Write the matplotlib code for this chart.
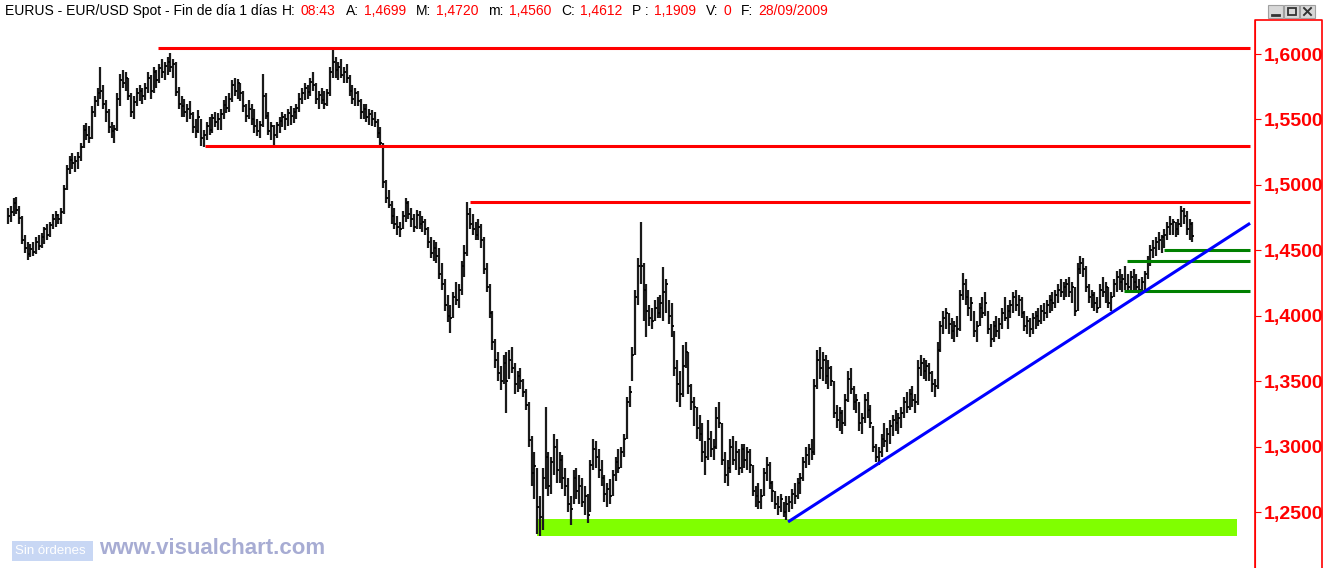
import matplotlib
matplotlib.use("Agg")
import matplotlib.pyplot as plt
from matplotlib.patches import Rectangle
from matplotlib.ticker import FuncFormatter
import numpy as np

# EUR/USD daily bars (high, low, close)
highs = [
    1.482, 1.484, 1.490, 1.491, 1.484, 1.476, 1.462, 1.456, 1.455, 1.456, 1.460, 1.462, 1.463, 1.468, 1.470, 1.472, 1.478, 1.480, 1.478, 1.482,
    1.500, 1.515, 1.522, 1.524, 1.522, 1.525, 1.532, 1.546, 1.547, 1.545, 1.560, 1.568, 1.574, 1.590, 1.576, 1.565, 1.558, 1.548, 1.546, 1.570,
    1.585, 1.588, 1.586, 1.582, 1.570, 1.568, 1.574, 1.576, 1.574, 1.578, 1.586, 1.584, 1.590, 1.588, 1.592, 1.596, 1.594, 1.598, 1.601, 1.596,
    1.594, 1.575, 1.568, 1.566, 1.562, 1.564, 1.556, 1.550, 1.557, 1.550, 1.542, 1.548, 1.552, 1.554, 1.556, 1.555, 1.558, 1.565, 1.568, 1.570,
    1.580, 1.582, 1.581, 1.578, 1.572, 1.562, 1.565, 1.562, 1.558, 1.550, 1.549, 1.585, 1.570, 1.556, 1.548, 1.546, 1.548, 1.552, 1.556, 1.554,
    1.558, 1.560, 1.559, 1.562, 1.570, 1.574, 1.578, 1.576, 1.582, 1.586, 1.578, 1.572, 1.574, 1.572, 1.573, 1.590, 1.604, 1.598, 1.594, 1.596,
    1.590, 1.592, 1.584, 1.576, 1.574, 1.572, 1.566, 1.562, 1.562, 1.558, 1.557, 1.556, 1.550, 1.544, 1.532, 1.504, 1.496, 1.488, 1.482, 1.476,
    1.472, 1.480, 1.490, 1.488, 1.482, 1.478, 1.481, 1.480, 1.476, 1.474, 1.468, 1.460, 1.458, 1.456, 1.452, 1.440, 1.428, 1.416, 1.408, 1.418,
    1.426, 1.424, 1.442, 1.454, 1.487, 1.482, 1.478, 1.472, 1.474, 1.470, 1.460, 1.440, 1.424, 1.404, 1.382, 1.372, 1.362, 1.370, 1.372, 1.374,
    1.376, 1.364, 1.358, 1.360, 1.352, 1.344, 1.334, 1.308, 1.296, 1.284, 1.262, 1.284, 1.330, 1.296, 1.292, 1.310, 1.306, 1.296, 1.294, 1.284,
    1.276, 1.262, 1.282, 1.284, 1.278, 1.276, 1.270, 1.264, 1.290, 1.306, 1.304, 1.298, 1.290, 1.278, 1.272, 1.275, 1.282, 1.292, 1.298, 1.300,
    1.310, 1.338, 1.346, 1.376, 1.420, 1.444, 1.472, 1.440, 1.424, 1.408, 1.406, 1.412, 1.414, 1.416, 1.437, 1.428, 1.412, 1.410, 1.388, 1.366,
    1.358, 1.378, 1.380, 1.372, 1.348, 1.338, 1.330, 1.324, 1.318, 1.304, 1.320, 1.312, 1.306, 1.330, 1.334, 1.318, 1.296, 1.290, 1.306, 1.308,
    1.304, 1.298, 1.302, 1.302, 1.300, 1.298, 1.286, 1.270, 1.272, 1.268, 1.284, 1.292, 1.288, 1.274, 1.266, 1.262, 1.264, 1.258, 1.262, 1.262,
    1.268, 1.272, 1.276, 1.280, 1.292, 1.300, 1.302, 1.306, 1.352, 1.374, 1.376, 1.372, 1.370, 1.366, 1.362, 1.350, 1.332, 1.330, 1.328, 1.340,
    1.358, 1.360, 1.346, 1.340, 1.334, 1.326, 1.340, 1.342, 1.332, 1.316, 1.302, 1.300, 1.310, 1.318, 1.314, 1.320, 1.324, 1.328, 1.326, 1.330,
    1.338, 1.342, 1.344, 1.346, 1.340, 1.366, 1.370, 1.368, 1.366, 1.364, 1.358, 1.352, 1.380, 1.396, 1.404, 1.406, 1.402, 1.398, 1.396, 1.400,
    1.420, 1.433, 1.428, 1.420, 1.414, 1.404, 1.396, 1.410, 1.414, 1.418, 1.404, 1.394, 1.396, 1.400, 1.398, 1.406, 1.414, 1.408, 1.412, 1.418,
    1.420, 1.416, 1.414, 1.404, 1.400, 1.398, 1.402, 1.404, 1.406, 1.408, 1.410, 1.412, 1.416, 1.418, 1.420, 1.424, 1.428, 1.426, 1.428, 1.430,
    1.426, 1.422, 1.440, 1.446, 1.444, 1.438, 1.424, 1.420, 1.418, 1.414, 1.424, 1.430, 1.426, 1.422, 1.418, 1.428, 1.434, 1.436, 1.432, 1.438,
    1.432, 1.434, 1.436, 1.432, 1.428, 1.430, 1.434, 1.446, 1.454, 1.458, 1.460, 1.464, 1.462, 1.466, 1.472, 1.476, 1.474, 1.472, 1.474, 1.484,
    1.482, 1.480, 1.474, 1.472,
]
lows = [
    1.470, 1.472, 1.476, 1.478, 1.470, 1.455, 1.448, 1.443, 1.445, 1.446, 1.447, 1.450, 1.452, 1.455, 1.458, 1.460, 1.466, 1.468, 1.470, 1.470,
    1.478, 1.496, 1.508, 1.512, 1.510, 1.512, 1.518, 1.528, 1.534, 1.532, 1.535, 1.552, 1.560, 1.566, 1.558, 1.548, 1.540, 1.536, 1.532, 1.541,
    1.560, 1.574, 1.572, 1.565, 1.552, 1.550, 1.560, 1.564, 1.562, 1.565, 1.570, 1.566, 1.570, 1.574, 1.578, 1.582, 1.580, 1.584, 1.586, 1.582,
    1.568, 1.558, 1.552, 1.552, 1.548, 1.550, 1.540, 1.536, 1.540, 1.530, 1.529, 1.534, 1.538, 1.540, 1.544, 1.542, 1.542, 1.550, 1.555, 1.556,
    1.563, 1.568, 1.566, 1.564, 1.556, 1.548, 1.550, 1.546, 1.540, 1.537, 1.536, 1.544, 1.550, 1.538, 1.534, 1.529, 1.536, 1.540, 1.544, 1.542,
    1.545, 1.546, 1.547, 1.550, 1.556, 1.562, 1.565, 1.566, 1.568, 1.572, 1.562, 1.558, 1.562, 1.558, 1.560, 1.568, 1.582, 1.582, 1.580, 1.582,
    1.578, 1.578, 1.568, 1.562, 1.560, 1.560, 1.550, 1.550, 1.548, 1.546, 1.545, 1.544, 1.536, 1.528, 1.498, 1.486, 1.482, 1.470, 1.466, 1.462,
    1.460, 1.466, 1.472, 1.474, 1.468, 1.464, 1.466, 1.466, 1.464, 1.462, 1.452, 1.444, 1.442, 1.440, 1.428, 1.420, 1.404, 1.395, 1.387, 1.398,
    1.408, 1.406, 1.416, 1.430, 1.446, 1.466, 1.462, 1.458, 1.458, 1.452, 1.432, 1.418, 1.398, 1.374, 1.360, 1.350, 1.343, 1.348, 1.326, 1.352,
    1.356, 1.340, 1.342, 1.344, 1.338, 1.328, 1.300, 1.270, 1.260, 1.233, 1.232, 1.236, 1.268, 1.262, 1.264, 1.278, 1.272, 1.272, 1.268, 1.262,
    1.250, 1.240, 1.256, 1.260, 1.256, 1.254, 1.248, 1.242, 1.250, 1.282, 1.284, 1.276, 1.270, 1.258, 1.254, 1.256, 1.262, 1.274, 1.280, 1.284,
    1.292, 1.306, 1.330, 1.350, 1.370, 1.408, 1.424, 1.396, 1.384, 1.392, 1.390, 1.396, 1.398, 1.398, 1.396, 1.402, 1.394, 1.384, 1.354, 1.334,
    1.330, 1.338, 1.360, 1.340, 1.328, 1.316, 1.306, 1.304, 1.288, 1.278, 1.290, 1.292, 1.290, 1.298, 1.314, 1.286, 1.272, 1.270, 1.280, 1.286,
    1.282, 1.278, 1.280, 1.284, 1.282, 1.280, 1.262, 1.254, 1.252, 1.252, 1.262, 1.274, 1.268, 1.258, 1.252, 1.248, 1.250, 1.246, 1.244, 1.250,
    1.252, 1.256, 1.260, 1.264, 1.274, 1.284, 1.286, 1.290, 1.294, 1.344, 1.352, 1.350, 1.348, 1.344, 1.346, 1.322, 1.314, 1.312, 1.310, 1.316,
    1.334, 1.340, 1.328, 1.326, 1.312, 1.310, 1.318, 1.322, 1.314, 1.296, 1.288, 1.286, 1.292, 1.300, 1.296, 1.302, 1.308, 1.312, 1.310, 1.314,
    1.322, 1.326, 1.328, 1.330, 1.326, 1.332, 1.354, 1.352, 1.350, 1.350, 1.342, 1.338, 1.344, 1.372, 1.386, 1.390, 1.386, 1.382, 1.380, 1.384,
    1.388, 1.412, 1.408, 1.400, 1.396, 1.384, 1.380, 1.392, 1.398, 1.400, 1.386, 1.376, 1.380, 1.384, 1.382, 1.390, 1.396, 1.390, 1.398, 1.402,
    1.404, 1.400, 1.398, 1.388, 1.386, 1.384, 1.386, 1.390, 1.392, 1.394, 1.396, 1.398, 1.402, 1.404, 1.406, 1.410, 1.414, 1.412, 1.414, 1.414,
    1.410, 1.400, 1.404, 1.432, 1.430, 1.418, 1.410, 1.406, 1.404, 1.402, 1.406, 1.414, 1.410, 1.406, 1.404, 1.414, 1.418, 1.420, 1.418, 1.420,
    1.418, 1.418, 1.420, 1.418, 1.416, 1.418, 1.420, 1.428, 1.438, 1.444, 1.446, 1.450, 1.448, 1.452, 1.458, 1.462, 1.462, 1.460, 1.462, 1.468,
    1.470, 1.462, 1.458, 1.456,
]
closes = [
    1.476, 1.479, 1.486, 1.481, 1.475, 1.458, 1.452, 1.447, 1.451, 1.449, 1.456, 1.453, 1.460, 1.466, 1.462, 1.469, 1.474, 1.477, 1.474, 1.479,
    1.497, 1.512, 1.519, 1.517, 1.518, 1.521, 1.529, 1.542, 1.538, 1.536, 1.556, 1.564, 1.570, 1.572, 1.562, 1.556, 1.544, 1.541, 1.543, 1.566,
    1.580, 1.578, 1.582, 1.568, 1.556, 1.563, 1.570, 1.572, 1.568, 1.574, 1.582, 1.572, 1.586, 1.580, 1.589, 1.586, 1.591, 1.594, 1.590, 1.592,
    1.571, 1.562, 1.560, 1.556, 1.558, 1.554, 1.544, 1.541, 1.552, 1.536, 1.538, 1.545, 1.542, 1.551, 1.548, 1.550, 1.554, 1.561, 1.559, 1.566,
    1.576, 1.572, 1.578, 1.570, 1.560, 1.553, 1.558, 1.550, 1.545, 1.541, 1.546, 1.568, 1.553, 1.541, 1.545, 1.538, 1.546, 1.549, 1.552, 1.550,
    1.555, 1.553, 1.556, 1.559, 1.566, 1.570, 1.574, 1.571, 1.579, 1.576, 1.566, 1.569, 1.565, 1.562, 1.570, 1.586, 1.594, 1.588, 1.590, 1.584,
    1.586, 1.582, 1.572, 1.566, 1.570, 1.564, 1.556, 1.558, 1.552, 1.554, 1.550, 1.548, 1.540, 1.532, 1.502, 1.490, 1.485, 1.476, 1.470, 1.468,
    1.466, 1.476, 1.486, 1.478, 1.474, 1.468, 1.477, 1.470, 1.472, 1.466, 1.456, 1.448, 1.452, 1.446, 1.432, 1.424, 1.408, 1.400, 1.398, 1.414,
    1.412, 1.420, 1.438, 1.448, 1.478, 1.470, 1.466, 1.462, 1.468, 1.458, 1.436, 1.422, 1.402, 1.380, 1.366, 1.356, 1.350, 1.364, 1.350, 1.366,
    1.360, 1.348, 1.354, 1.350, 1.342, 1.332, 1.305, 1.280, 1.285, 1.254, 1.246, 1.276, 1.292, 1.270, 1.288, 1.300, 1.282, 1.290, 1.276, 1.270,
    1.256, 1.252, 1.276, 1.266, 1.270, 1.258, 1.262, 1.248, 1.286, 1.298, 1.292, 1.282, 1.276, 1.264, 1.268, 1.262, 1.278, 1.288, 1.284, 1.296,
    1.306, 1.334, 1.342, 1.370, 1.414, 1.438, 1.438, 1.420, 1.404, 1.398, 1.396, 1.406, 1.402, 1.410, 1.418, 1.424, 1.400, 1.392, 1.360, 1.348,
    1.340, 1.362, 1.372, 1.346, 1.334, 1.330, 1.314, 1.310, 1.296, 1.292, 1.306, 1.298, 1.300, 1.322, 1.318, 1.290, 1.278, 1.284, 1.300, 1.290,
    1.296, 1.284, 1.298, 1.290, 1.296, 1.286, 1.266, 1.262, 1.258, 1.262, 1.280, 1.286, 1.272, 1.266, 1.256, 1.254, 1.260, 1.250, 1.256, 1.258,
    1.264, 1.262, 1.272, 1.276, 1.288, 1.294, 1.298, 1.296, 1.346, 1.366, 1.360, 1.366, 1.354, 1.360, 1.350, 1.326, 1.320, 1.326, 1.318, 1.336,
    1.352, 1.344, 1.334, 1.336, 1.318, 1.322, 1.336, 1.328, 1.318, 1.300, 1.292, 1.296, 1.306, 1.304, 1.310, 1.316, 1.320, 1.318, 1.322, 1.326,
    1.334, 1.330, 1.340, 1.336, 1.334, 1.360, 1.364, 1.358, 1.362, 1.356, 1.348, 1.346, 1.374, 1.392, 1.398, 1.402, 1.394, 1.388, 1.392, 1.390,
    1.416, 1.424, 1.414, 1.406, 1.410, 1.388, 1.392, 1.406, 1.402, 1.410, 1.390, 1.382, 1.392, 1.388, 1.394, 1.402, 1.398, 1.404, 1.408, 1.414,
    1.408, 1.412, 1.402, 1.392, 1.396, 1.390, 1.398, 1.400, 1.396, 1.404, 1.402, 1.408, 1.412, 1.410, 1.416, 1.420, 1.418, 1.422, 1.424, 1.418,
    1.422, 1.404, 1.436, 1.440, 1.436, 1.422, 1.414, 1.416, 1.410, 1.406, 1.420, 1.418, 1.422, 1.410, 1.414, 1.424, 1.430, 1.426, 1.428, 1.424,
    1.422, 1.430, 1.426, 1.422, 1.420, 1.426, 1.432, 1.442, 1.450, 1.452, 1.456, 1.458, 1.460, 1.462, 1.468, 1.470, 1.472, 1.466, 1.470, 1.480,
    1.476, 1.466, 1.470, 1.4612,
]

# drawn studies: (start bar, level)
red_levels = [(53.6, 1.6046), (70.4, 1.5295), (165.0, 1.4869)]
green_levels = [(412.9, 1.4503), (399.5, 1.4421), (398.6, 1.4189)]
trend_bars = [278.6, 443.6]
trend_prices = [1.2425, 1.4707]
zone_bars = [188.9, 438.9]
zone_prices = [1.2317, 1.2447]
line_end = 443.6

header = [("EURUS - EUR/USD Spot - Fin de día 1 días", "black", 5), ("H:", "black", 5), ("08:43", "red", 10),
          ("A:", "black", 5), ("1,4699", "red", 10), ("M:", "black", 5), ("1,4720", "red", 10),
          ("m:", "black", 5), ("1,4560", "red", 10), ("C:", "black", 5), ("1,4612", "red", 10),
          ("P :", "black", 5), ("1,1909", "red", 10), ("V:", "black", 5), ("0", "red", 10),
          ("F:", "black", 5), ("28/09/2009", "red", 0)]

W, H = 1334, 568
fig = plt.figure(figsize=(W / 100, H / 100), dpi=100)
fig.patch.set_facecolor("white")

ax = fig.add_axes([0, 0, 1255 / W, 548 / H])
ax.set_xlim(-2.857, 445.36)
ax.set_ylim(1.2073, 1.626)

x = np.arange(len(closes))
ax.add_patch(Rectangle((zone_bars[0], zone_prices[0]), zone_bars[1] - zone_bars[0],
                       zone_prices[1] - zone_prices[0], color="#80ff00", lw=0, zorder=1))
ax.vlines(x, lows, highs, color="#1a1a1a", lw=1.6, zorder=2)
ax.hlines(closes, x, x + 0.7, color="#000000", lw=1.3, zorder=2)

for start, lvl in red_levels:
    ax.hlines(lvl, start, line_end, color="#ff0000", lw=2.2, zorder=3)
for start, lvl in green_levels:
    ax.hlines(lvl, start, line_end, color="#008000", lw=2.2, zorder=3)
ax.plot(trend_bars, trend_prices, color="#0000ff", lw=2.2, zorder=3, solid_capstyle="butt")

for s in ["left", "top", "bottom"]:
    ax.spines[s].set_visible(False)
ax.spines["right"].set_color("red")
ax.set_xticks([])
ax.yaxis.tick_right()
ax.set_yticks(np.arange(1.25, 1.6001, 0.05))
ax.yaxis.set_major_formatter(FuncFormatter(lambda v, p: f"{v:.4f}".replace(".", ",")))
ax.tick_params(axis="y", direction="out", length=4, color="red", labelcolor="red", pad=2)
for lab in ax.get_yticklabels():
    lab.set_fontfamily("Liberation Sans")
    lab.set_fontweight("bold")
    lab.set_fontsize(14)

# overlay in pixel coordinates for the window furniture
ov = fig.add_axes([0, 0, 1, 1], zorder=5)
ov.set_xlim(0, W)
ov.set_ylim(H, 0)
ov.axis("off")
ov.patch.set_visible(False)

ov.plot([1255, 1255, 1322, 1322], [H, 20, 20, H], color="red", lw=1.2)

# window buttons
for bx in [1268, 1284, 1300]:
    ov.add_patch(Rectangle((bx, 5), 15, 13, facecolor="#d8d8d8", edgecolor="#a0a0a0", lw=0.8))
ov.plot([1272, 1279], [14.5, 14.5], color="#333333", lw=2)
ov.add_patch(Rectangle((1288, 8), 8, 7, fill=False, edgecolor="#333333", lw=1.3))
ov.plot([1304, 1311], [8, 15], color="#333333", lw=1.4)
ov.plot([1304, 1311], [15, 8], color="#333333", lw=1.4)

# header text, chained left to right
fig.canvas.draw()
rend = fig.canvas.get_renderer()
hx = 5
for txt, col, gap in header:
    t = ov.text(hx, 11, txt, color=col, fontsize=10, family="Liberation Sans", va="center", ha="left")
    hx += t.get_window_extent(renderer=rend).width + gap

# watermark
ov.add_patch(Rectangle((12, 541), 81, 20, facecolor="#c8d7f4", edgecolor="none"))
ov.text(15, 551, "Sin órdenes", color="white", fontsize=9.5, family="Liberation Sans", va="center", ha="left")
ov.text(99, 549, "www.visualchart.com", color="#a7acd3", fontsize=16, fontweight="bold",
        family="Liberation Sans", va="center", ha="left")

fig.savefig("out.png", dpi=100)
